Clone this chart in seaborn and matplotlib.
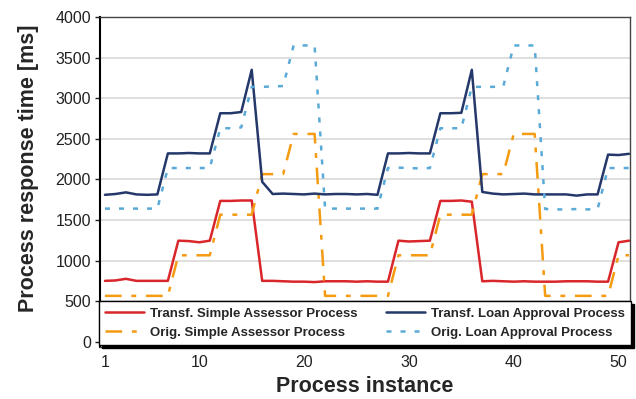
#!/usr/bin/env python3
# -*- coding: utf-8 -*-

import pandas as pd
import matplotlib
matplotlib.use("Agg")
import matplotlib.pyplot as plt
import seaborn as sns

# ================= data =================
instances = list(range(1, 52))

transf_simple = [750, 755, 775, 750, 750, 750, 750,
                 1245, 1240, 1225, 1245,
                 1735, 1735, 1740, 1740,
                 750, 750, 745, 740, 740, 735, 745, 745, 745, 740, 745, 740, 740,
                 1245, 1235, 1240, 1245,
                 1735, 1735, 1740, 1725,
                 745, 750, 745, 740, 745, 740, 740, 740, 745, 745, 745, 740, 740,
                 1225, 1245]

orig_simple = [565] * 7 + [1065] * 4 + [1565] * 4 + [2065] * 3 + [2560] * 3 + \
              [565] * 7 + [1065] * 4 + [1565] * 4 + [2065] * 3 + [2560] * 3 + \
              [565] * 7 + [1065] * 2

transf_loan = [1810, 1820, 1840, 1815, 1810, 1815,
               2320, 2320, 2325, 2320, 2320,
               2815, 2815, 2830,
               3350,
               1970,
               1820, 1825, 1820, 1815, 1825, 1815, 1820, 1820, 1815, 1820, 1810,
               2320, 2320, 2325, 2320, 2320,
               2815, 2815, 2820,
               3350,
               1845, 1825, 1815, 1820, 1825, 1815, 1815, 1815, 1815, 1800, 1815, 1815,
               2305, 2300, 2315]

orig_loan = [1640] * 6 + [2140] * 5 + [2630, 2630, 2640] + [3140, 3140, 3145, 3150] + [3650] * 3 + \
            [1640] * 6 + [2140, 2145, 2140, 2135, 2140] + [2630] * 3 + [3140, 3140, 3140, 3145] + [3650] * 3 + \
            [1635, 1630, 1630, 1635, 1630, 1635] + [2140] * 3

series_names = ["Transf. Simple Assessor Process", "Orig. Simple Assessor Process",
                "Transf. Loan Approval Process", "Orig. Loan Approval Process"]
y_ticks = [0, 500, 1000, 1500, 2000, 2500, 3000, 3500, 4000]
x_ticks = [1, 10, 20, 30, 40, 50]

# ================= style =================
sns.set_style("white")
plt.rcParams['font.family'] = ['Liberation Sans', 'DejaVu Sans']
plt.rcParams['lines.scale_dashes'] = False

colors = {
    series_names[0]: "#d9262b",
    series_names[1]: "#f49b12",
    series_names[2]: "#24386a",
    series_names[3]: "#5aaad8",
}
dash_map = {
    series_names[0]: "",
    series_names[1]: (12, 7, 3.5, 7),
    series_names[2]: "",
    series_names[3]: (3.6, 6.5),
}

frames = []
for name, vals in zip(series_names, [transf_simple, orig_simple, transf_loan, orig_loan]):
    frames.append(pd.DataFrame({"instance": instances, "time": vals, "series": name}))
df = pd.concat(frames, ignore_index=True)

# ================= plot =================
fig = plt.figure(figsize=(6.36, 3.99), dpi=100)
ax = fig.add_axes([0.1572, 0.1313, 0.8334, 0.826])

sns.lineplot(data=df, x="instance", y="time", hue="series", style="series",
             hue_order=series_names, style_order=series_names,
             palette=colors, dashes=dash_map, linewidth=1.8, ax=ax)

ax.set_xlim(0.523, 51.095)
ax.set_ylim(-60, 4000)
ax.set_yticks(y_ticks)
ax.set_xticks(x_ticks)
ax.yaxis.grid(True, color="#d9d9d9", linewidth=1.2)
ax.set_axisbelow(True)

ax.tick_params(axis="y", left=True, length=3.6, width=1, pad=3.0, labelsize=11.5, colors="#222222")
ax.tick_params(axis="x", bottom=False, length=0, pad=6, labelsize=11.5, colors="#222222")

for side in ["top", "right", "bottom"]:
    ax.spines[side].set_color("#444444")
    ax.spines[side].set_linewidth(1.0)
ax.spines["left"].set_color("black")
ax.spines["left"].set_linewidth(1.5)

ax.set_ylabel("Process response time [ms]", fontsize=15.5, fontweight="bold")
ax.yaxis.set_label_coords(-0.115, 0.54)
ax.set_xlabel("Process instance", fontsize=15.5, fontweight="bold", labelpad=4)

handles, labels = ax.get_legend_handles_labels()
order = [labels.index(n) for n in series_names]
leg = ax.legend([handles[i] for i in order], [labels[i] for i in order],
                ncol=2, loc="lower left", mode="expand",
                bbox_to_anchor=(-0.002, 0.005, 1.004, 0.13), borderaxespad=0,
                fancybox=False, framealpha=1, edgecolor="black",
                shadow={"color": "black", "alpha": 1},
                prop={"weight": "bold", "size": 9.5},
                handlelength=3.0, handletextpad=0.45, columnspacing=0.7,
                labelspacing=0.55, borderpad=0.45)
leg.get_frame().set_linewidth(1.0)
for line in leg.get_lines():
    line.set_linewidth(1.8)

fig.savefig("out.png", dpi=100)
plt.close(fig)
